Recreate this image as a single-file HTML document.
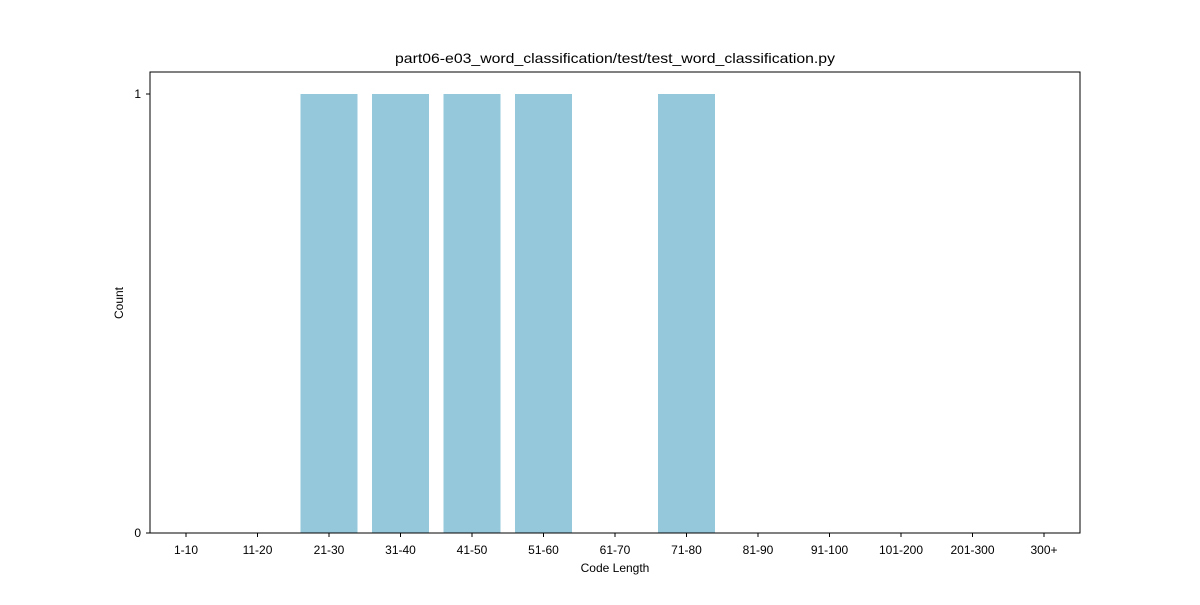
<!DOCTYPE html>
<html><head><meta charset="utf-8"><style>
body{margin:0;background:#fff;}
svg text{font-family:"Liberation Sans",sans-serif;fill:#000;}
</style></head><body>
<svg id="chart" width="1200" height="600">
<rect x="0" y="0" width="1200" height="600" fill="#fff"/>
<text x="615" y="63" text-anchor="middle" font-size="14" textLength="440" lengthAdjust="spacingAndGlyphs">part06-e03_word_classification/test/test_word_classification.py</text>
<g id="bars"></g>
<rect x="150" y="72" width="930" height="461" fill="none" stroke="#000" stroke-width="1"/>
<g id="xticks"></g><g id="yticks"></g>
<text x="615" y="572" text-anchor="middle" font-size="12">Code Length</text>
<text x="123" y="303" text-anchor="middle" font-size="12" transform="rotate(-90 123 303)">Count</text>
</svg>
<script>
const categories=["1-10","11-20","21-30","31-40","41-50","51-60","61-70","71-80","81-90","91-100","101-200","201-300","300+"];
const counts=[0,0,1,1,1,1,0,1,0,0,0,0,0];
const yTicks=[0,1];
const NS="http://www.w3.org/2000/svg";
const x0=186,step=71.5,bw=57;
function xs(i){return x0+i*step;}
function ys(v){return 533-v*439;}
const bars=document.getElementById('bars'),xt=document.getElementById('xticks'),yt=document.getElementById('yticks');
categories.forEach((c,i)=>{
  const r=document.createElementNS(NS,'rect');
  r.setAttribute('x',xs(i)-bw/2);r.setAttribute('y',ys(counts[i]));
  r.setAttribute('width',bw);r.setAttribute('height',ys(0)-ys(counts[i]));
  r.setAttribute('fill','#96c8dc');
  
  
  bars.appendChild(r);
  const l=document.createElementNS(NS,'line');
  l.setAttribute('x1',xs(i));l.setAttribute('x2',xs(i));l.setAttribute('y1',533);l.setAttribute('y2',537);l.setAttribute('stroke','#000');
  xt.appendChild(l);
  const t=document.createElementNS(NS,'text');
  t.setAttribute('x',xs(i));t.setAttribute('y',554);t.setAttribute('text-anchor','middle');t.setAttribute('font-size','12');
  t.textContent=c;
  
  
  xt.appendChild(t);
});
yTicks.forEach(v=>{
  const l=document.createElementNS(NS,'line');
  l.setAttribute('x1',146);l.setAttribute('x2',150);l.setAttribute('y1',ys(v));l.setAttribute('y2',ys(v));l.setAttribute('stroke','#000');
  yt.appendChild(l);
  const t=document.createElementNS(NS,'text');
  t.setAttribute('x',141);t.setAttribute('y',ys(v)+4);t.setAttribute('text-anchor','end');t.setAttribute('font-size','12');
  t.textContent=v;
  
  
  yt.appendChild(t);
});
</script>
</body></html>
